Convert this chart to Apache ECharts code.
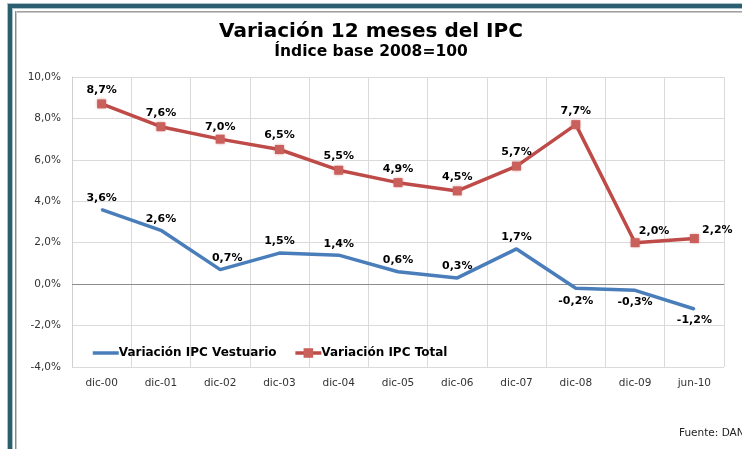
<!DOCTYPE html>
<html>
<head>
<meta charset="utf-8">
<script src="https://cdn.jsdelivr.net/npm/echarts@6/dist/echarts.min.js"></script>
<style>
  html, body { margin: 0; padding: 0; background: #fff; }
  #chart { width: 742px; height: 449px; }
</style>
</head>
<body>
<div id="chart"></div>
<script>
// Variación 12 meses del IPC — Vestuario vs Total (DANE)

const categories = ["dic-00", "dic-01", "dic-02", "dic-03", "dic-04", "dic-05",
  "dic-06", "dic-07", "dic-08", "dic-09", "jun-10"];
const vestuario = [3.6, 2.6, 0.7, 1.5, 1.4, 0.6, 0.3, 1.7, -0.2, -0.3, -1.2];
const total = [8.7, 7.6, 7.0, 6.5, 5.5, 4.9, 4.5, 5.7, 7.7, 2.0, 2.2];
const yTicks = [-4, -2, 0, 2, 4, 6, 8, 10];

// label placement per point (style only)
const vestLabelPos = ["top", "top", "top", "top", "top", "top", "top", "top", "bottom", "bottom", "bottom"];
const vestLabelOff = [[0, 0], [0, 0], [7, 0], [0, 0], [0, 0], [0, 0], [0, 0], [0, 0], [0, 1], [0, 0], [0, 0]];
const totalLabelOff = [[0, 0], [0, 0], [0, 2], [0, 0], [0, 0], [0, 0], [0, 0], [0, 0], [0, 0], [19, 2], [23, 6]];

const BLUE = "#4a7ebb";
const RED = "#be4b48";
const TEAL = "#2b5e6e";
const FONT = "DejaVu Sans";

const fmt = (v) => `${v.toFixed(1).replace(".", ",")}%`;

const labelBase = {
  show: true,
  fontFamily: FONT,
  fontWeight: "bold",
  fontSize: 11,
  color: "#000",
  formatter: (p) => fmt(p.value),
};

const chart = echarts.init(document.getElementById("chart"), null, { renderer: "canvas" });

chart.setOption({
  animation: false,
  backgroundColor: "#fff",
  title: [
    {
      text: "Variación 12 meses del IPC",
      left: "center",
      top: 22,
      padding: 0,
      textStyle: { fontFamily: FONT, fontWeight: "bold", fontSize: 20, color: "#000" },
    },
    {
      text: "Índice base 2008=100",
      left: "center",
      top: 44,
      padding: 0,
      textStyle: { fontFamily: FONT, fontWeight: "bold", fontSize: 15.5, color: "#000" },
    },
    {
      text: "Fuente: DANE",
      left: 679,
      top: 428,
      padding: 0,
      textStyle: { fontFamily: FONT, fontWeight: "normal", fontSize: 10.5, color: "#222" },
    },
  ],
  graphic: [
    // teal frame + grey inner border
    { type: "rect", shape: { x: 7, y: 3, width: 735, height: 6 }, style: { fill: "#a9c4c8" }, z: -1 },
    { type: "rect", shape: { x: 7, y: 3, width: 6, height: 446 }, style: { fill: "#a9c4c8" }, z: -1 },
    { type: "rect", shape: { x: 8, y: 4, width: 734, height: 4 }, style: { fill: TEAL } },
    { type: "rect", shape: { x: 8, y: 4, width: 4, height: 445 }, style: { fill: TEAL } },
    { type: "rect", shape: { x: 15, y: 11, width: 727, height: 2 }, style: { fill: "#c8c8c8" } },
    { type: "rect", shape: { x: 15, y: 11, width: 727, height: 1 }, style: { fill: "#a0a0a0" } },
    { type: "rect", shape: { x: 15, y: 11, width: 2, height: 438 }, style: { fill: "#c8c8c8" } },
    { type: "rect", shape: { x: 15, y: 11, width: 1, height: 438 }, style: { fill: "#8a8a8a" } },
  ],
  legend: {
    left: 91,
    top: 347,
    padding: 0,
    itemWidth: 26,
    itemHeight: 12,
    itemGap: 17,
    textStyle: { fontFamily: FONT, fontWeight: "bold", fontSize: 12, color: "#000", padding: [0, 0, 0, -5] },
    data: [
      { name: "Variación IPC Vestuario", itemStyle: { opacity: 0 }, lineStyle: { width: 3.5 } },
      { name: "Variación IPC Total", lineStyle: { width: 3.5 } },
    ],
  },
  grid: { left: 72, right: 18, top: 77, bottom: 82 },
  xAxis: {
    type: "category",
    data: categories,
    boundaryGap: true,
    axisLine: { show: false, onZero: false },
    axisTick: { show: false },
    axisLabel: { fontFamily: FONT, fontSize: 10.5, color: "#333", margin: 11 },
    splitLine: { show: true, interval: 0, lineStyle: { color: "#dadada", width: 1 } },
  },
  yAxis: {
    type: "value",
    min: yTicks[0],
    max: yTicks[yTicks.length - 1],
    interval: 2,
    axisLine: { show: true, lineStyle: { color: "#d0d0d0" } },
    axisTick: { show: false },
    axisLabel: { fontFamily: FONT, fontSize: 10.5, color: "#333", margin: 11, formatter: (v) => fmt(v) },
    splitLine: { show: true, lineStyle: { color: "#dadada", width: 1 } },
  },
  series: [
    {
      name: "Variación IPC Vestuario",
      type: "line",
      data: vestuario.map((v, i) => ({
        value: v,
        label: { position: vestLabelPos[i], offset: vestLabelOff[i], distance: 5 },
      })),
      symbol: "circle",
      symbolSize: 2,
      lineStyle: { color: BLUE, width: 3.5 },
      itemStyle: { color: BLUE },
      label: labelBase,
      z: 3,
      markLine: {
        silent: true,
        symbol: "none",
        label: { show: false },
        lineStyle: { color: "#8c8c8c", width: 1, type: "solid" },
        data: [{ yAxis: 0 }],
        z: 1,
      },
    },
    {
      name: "Variación IPC Total",
      type: "line",
      data: total.map((v, i) => ({
        value: v,
        label: { position: "top", offset: totalLabelOff[i], distance: 4 },
      })),
      symbol: "rect",
      symbolSize: 9,
      lineStyle: { color: RED, width: 3.5 },
      itemStyle: { color: "#c9605c", shadowColor: "rgba(190,75,72,0.6)", shadowBlur: 3 },
      label: labelBase,
      z: 4,
    },
  ],
});
</script>
</body>
</html>
